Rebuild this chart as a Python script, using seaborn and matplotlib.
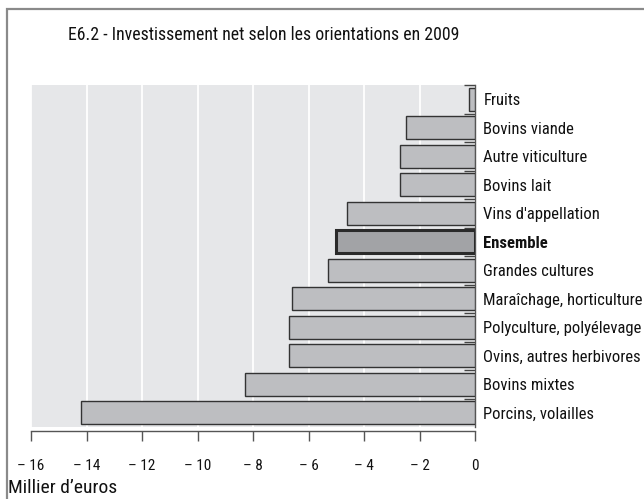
import matplotlib
matplotlib.use("Agg")
import matplotlib.pyplot as plt
import seaborn as sns
import pandas as pd
from matplotlib.patches import Rectangle

categories = ["Fruits", "Bovins viande", "Autre viticulture", "Bovins lait",
              "Vins d'appellation", "Ensemble", "Grandes cultures",
              "Maraîchage, horticulture", "Polyculture, polyélevage",
              "Ovins, autres herbivores", "Bovins mixtes", "Porcins, volailles"]
values = [-0.2, -2.5, -2.7, -2.7, -4.6, -5.0, -5.3, -6.6, -6.7, -6.7, -8.3, -14.2]
xticks = [-16, -14, -12, -10, -8, -6, -4, -2, 0]
xticklabels = ["– 16", "– 14", "– 12", "– 10", "– 8", "– 6", "– 4", "– 2", "0"]
highlight = "Ensemble"

FONT = "Roboto Condensed"

sns.set_theme(style="white")
plt.rcParams["font.family"] = [FONT, "DejaVu Sans"]

df = pd.DataFrame({"cat": categories, "val": values})
palette = {c: ("#a2a3a6" if c == highlight else "#bdbec1") for c in categories}

fig = plt.figure(figsize=(6.44, 4.99), dpi=100)
ax = fig.add_axes([31/644, 1-427/499, (475-31)/644, (427-85)/499])
ax.set_facecolor("#e6e7e9")

sns.barplot(data=df, x="val", y="cat", hue="cat", palette=palette, legend=False,
            orient="h", width=0.8, ax=ax, edgecolor="#333333", linewidth=1.0,
            saturation=1)
for p, c in zip(ax.patches, categories):
    if c == highlight:
        p.set_linewidth(2.2)
        p.set_edgecolor("#2a2a2a")
    p.set_zorder(3)

ax.set_xlim(-16, 0)
ax.set_ylim(11.5, -0.5)
ax.set_xticks(xticks)
ax.set_xticklabels(xticklabels, fontsize=15)
ax.grid(axis="x", color="white", linewidth=1.3, zorder=0)
ax.set_axisbelow(True)

ax.yaxis.tick_right()
ax.set_yticks(range(len(categories)))
ax.set_yticklabels(categories, fontsize=12)
for t in ax.get_yticklabels():
    if t.get_text() == highlight:
        t.set_fontweight("bold")
ax.set_yticks([i - 0.5 for i in range(len(categories))], minor=True)
ax.tick_params(axis="y", which="major", length=0, pad=6, colors="#111111")
ax.tick_params(axis="y", which="minor", length=8, width=1.0, direction="in",
               right=True, left=False, color="#444444")
ax.tick_params(axis="x", which="major", length=7, width=1.0, direction="out",
               bottom=True, color="#555555", labelcolor="#111111", pad=13)
ax.set_xlabel("")
ax.set_ylabel("")

for s in ["top", "left"]:
    ax.spines[s].set_visible(False)
ax.spines["right"].set_color("#555555")
ax.spines["right"].set_linewidth(1.0)
ax.spines["bottom"].set_color("#555555")
ax.spines["bottom"].set_linewidth(1.0)
ax.spines["bottom"].set_position(("outward", 3))

fig.text(264/644, 1-35/499, "E6.2 - Investissement net selon les orientations en 2009",
         ha="center", va="center", fontsize=12.8, color="#111111")
fig.text(8/644, 1-488/499, "Millier d’euros", ha="left", va="center",
         fontsize=14, color="#111111")

fig.patches.append(Rectangle((6.5/644, -0.1), 1.2, 1-8.5/499+0.1,
                             transform=fig.transFigure, fill=False,
                             edgecolor="#8a8a8a", linewidth=1.6))

fig.savefig("out.png", dpi=100)
